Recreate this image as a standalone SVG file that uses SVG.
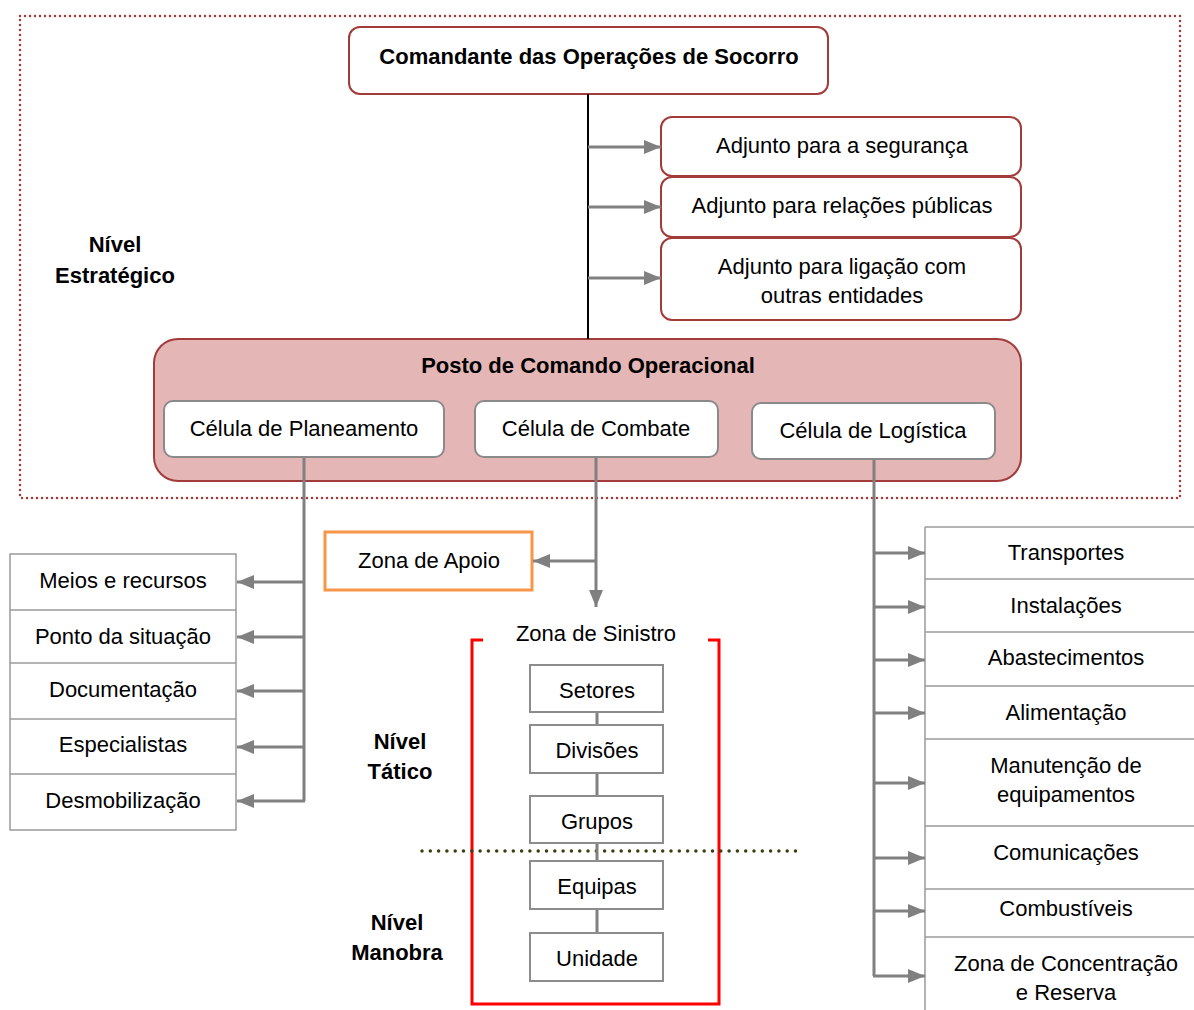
<svg xmlns="http://www.w3.org/2000/svg" width="1194" height="1010" viewBox="0 0 1194 1010">
  <style>
    text { font-family: "Liberation Sans", Arial, sans-serif; font-size: 22px; fill: #000; text-anchor: middle; }
    .b { font-weight: bold; }
    .rbox { fill: #fff; stroke: #a33b3b; stroke-width: 2; }
    .cell { fill: #fff; stroke: #8a8a8a; stroke-width: 2; }
    .sq { fill: #fff; stroke: #8c8c8c; stroke-width: 2; }
    .list { fill: #fff; stroke: #9a9a9a; stroke-width: 1.5; }
    .conn { fill: none; stroke: #808080; stroke-width: 3; }
  </style>
  <defs>
    <marker id="arr" markerUnits="userSpaceOnUse" markerWidth="18" markerHeight="14" refX="17" refY="7" orient="auto">
      <path d="M0,0 L17,7 L0,14 Z" fill="#808080"/>
    </marker>
  </defs>

  <rect width="1194" height="1010" fill="#fff"/>

  <!-- strategic level frame -->
  <rect x="20" y="16" width="1160" height="482" fill="none" stroke="#a33b3b" stroke-width="2.5" stroke-dasharray="0 5" stroke-linecap="round"/>

  <!-- level labels -->
  <g id="nivel-estrategico">
    <text class="b" x="115" y="252">Nível</text>
    <text class="b" x="115" y="283">Estratégico</text>
  </g>
  <g id="nivel-tatico">
    <text class="b" x="400" y="749">Nível</text>
    <text class="b" x="400" y="779">Tático</text>
  </g>
  <g id="nivel-manobra">
    <text class="b" x="397" y="930">Nível</text>
    <text class="b" x="397" y="960">Manobra</text>
  </g>

  <!-- commander -->
  <g id="comandante">
    <rect class="rbox" x="349" y="27" width="479" height="67" rx="11"/>
    <text class="b" x="589" y="64">Comandante das Operações de Socorro</text>
  </g>

  <!-- deputies -->
  <g id="adjunto-seguranca">
    <rect class="rbox" x="661" y="117" width="360" height="59" rx="11"/>
    <text x="842" y="153">Adjunto para a segurança</text>
  </g>
  <g id="adjunto-relacoes">
    <rect class="rbox" x="661" y="177" width="360" height="60" rx="11"/>
    <text x="842" y="213">Adjunto para relações públicas</text>
  </g>
  <g id="adjunto-ligacao">
    <rect class="rbox" x="661" y="238" width="360" height="82" rx="11"/>
    <text x="842" y="274">Adjunto para ligação com</text>
    <text x="842" y="303">outras entidades</text>
  </g>

  <!-- operational command post -->
  <g id="posto-comando">
    <rect x="154" y="339" width="867" height="142" rx="24" fill="#e4b6b6" stroke="#a33b3b" stroke-width="2"/>
    <text class="b" x="588" y="373">Posto de Comando Operacional</text>
  </g>
  <g id="celula-planeamento">
    <rect class="cell" x="164" y="401" width="280" height="56" rx="9"/>
    <text x="304" y="436">Célula de Planeamento</text>
  </g>
  <g id="celula-combate">
    <rect class="cell" x="475" y="401" width="243" height="56" rx="9"/>
    <text x="596" y="436">Célula de Combate</text>
  </g>
  <g id="celula-logistica">
    <rect class="cell" x="752" y="403" width="243" height="56" rx="9"/>
    <text x="873" y="438">Célula de Logística</text>
  </g>

  <!-- planning list -->
  <g id="lista-planeamento">
    <rect class="list" x="10" y="554" width="226" height="276"/>
    <line class="list" x1="10" y1="610" x2="236" y2="610"/>
    <line class="list" x1="10" y1="663" x2="236" y2="663"/>
    <line class="list" x1="10" y1="719" x2="236" y2="719"/>
    <line class="list" x1="10" y1="774" x2="236" y2="774"/>
  </g>
  <g id="meios-recursos"><text x="123" y="588">Meios e recursos</text></g>
  <g id="ponto-situacao"><text x="123" y="644">Ponto da situação</text></g>
  <g id="documentacao"><text x="123" y="697">Documentação</text></g>
  <g id="especialistas"><text x="123" y="752">Especialistas</text></g>
  <g id="desmobilizacao"><text x="123" y="808">Desmobilização</text></g>

  <!-- support zone -->
  <g id="zona-apoio">
    <rect x="325" y="532" width="207" height="58" fill="#fff" stroke="#f79646" stroke-width="3"/>
    <text x="429" y="568">Zona de Apoio</text>
  </g>

  <!-- incident zone -->
  <g id="zona-sinistro">
    <path d="M483,640 H472 V1004 H719 V640 H708" fill="none" stroke="#ff0000" stroke-width="3"/>
    <text x="596" y="641">Zona de Sinistro</text>
  </g>
  <g id="setores">
    <rect class="sq" x="530" y="665" width="133" height="47"/>
    <text x="597" y="698">Setores</text>
  </g>
  <g id="divisoes">
    <rect class="sq" x="530" y="725" width="133" height="48"/>
    <text x="597" y="758">Divisões</text>
  </g>
  <g id="grupos">
    <rect class="sq" x="530" y="796" width="133" height="47"/>
    <text x="597" y="829">Grupos</text>
  </g>
  <g id="equipas">
    <rect class="sq" x="530" y="861" width="133" height="48"/>
    <text x="597" y="894">Equipas</text>
  </g>
  <g id="unidade">
    <rect class="sq" x="530" y="933" width="133" height="48"/>
    <text x="597" y="966">Unidade</text>
  </g>

  <!-- tactical / manoeuvre divide -->
  <line x1="422" y1="851" x2="798" y2="851" stroke="#3d3d10" stroke-width="3.5" stroke-dasharray="0 8.3" stroke-linecap="round"/>

  <!-- logistics list -->
  <g id="lista-logistica">
    <line class="list" x1="925" y1="527" x2="925" y2="1010"/>
    <line class="list" x1="925" y1="527" x2="1194" y2="527"/>
    <line class="list" x1="925" y1="579" x2="1194" y2="579"/>
    <line class="list" x1="925" y1="632" x2="1194" y2="632"/>
    <line class="list" x1="925" y1="686" x2="1194" y2="686"/>
    <line class="list" x1="925" y1="739" x2="1194" y2="739"/>
    <line class="list" x1="925" y1="826" x2="1194" y2="826"/>
    <line class="list" x1="925" y1="889" x2="1194" y2="889"/>
    <line class="list" x1="925" y1="937" x2="1194" y2="937"/>
  </g>
  <g id="transportes"><text x="1066" y="560">Transportes</text></g>
  <g id="instalacoes"><text x="1066" y="613">Instalações</text></g>
  <g id="abastecimentos"><text x="1066" y="665">Abastecimentos</text></g>
  <g id="alimentacao"><text x="1066" y="720">Alimentação</text></g>
  <g id="manutencao">
    <text x="1066" y="773">Manutenção de</text>
    <text x="1066" y="802">equipamentos</text>
  </g>
  <g id="comunicacoes"><text x="1066" y="860">Comunicações</text></g>
  <g id="combustiveis"><text x="1066" y="916">Combustíveis</text></g>
  <g id="zona-concentracao">
    <text x="1066" y="971">Zona de Concentração</text>
    <text x="1066" y="1000">e Reserva</text>
  </g>

  <!-- connectors (drawn last so the cell drops show over the command post) -->
  <g id="connectors">
    <line x1="588" y1="94" x2="588" y2="339" stroke="#000" stroke-width="2"/>
    <line class="conn" x1="588" y1="147" x2="661" y2="147" marker-end="url(#arr)"/>
    <line class="conn" x1="588" y1="207" x2="661" y2="207" marker-end="url(#arr)"/>
    <line class="conn" x1="588" y1="278" x2="661" y2="278" marker-end="url(#arr)"/>

    <!-- planning cell -->
    <path class="conn" d="M304,458 V801"/>
    <line class="conn" x1="305" y1="582" x2="237" y2="582" marker-end="url(#arr)"/>
    <line class="conn" x1="305" y1="637" x2="237" y2="637" marker-end="url(#arr)"/>
    <line class="conn" x1="305" y1="691" x2="237" y2="691" marker-end="url(#arr)"/>
    <line class="conn" x1="305" y1="747" x2="237" y2="747" marker-end="url(#arr)"/>
    <line class="conn" x1="305" y1="801" x2="237" y2="801" marker-end="url(#arr)"/>

    <!-- combat cell -->
    <line class="conn" x1="596" y1="458" x2="596" y2="607" marker-end="url(#arr)"/>
    <line class="conn" x1="597" y1="561" x2="533" y2="561" marker-end="url(#arr)"/>

    <!-- logistics cell -->
    <path class="conn" d="M874,460 V976"/>
    <line class="conn" x1="873" y1="553" x2="925" y2="553" marker-end="url(#arr)"/>
    <line class="conn" x1="873" y1="607" x2="925" y2="607" marker-end="url(#arr)"/>
    <line class="conn" x1="873" y1="660" x2="925" y2="660" marker-end="url(#arr)"/>
    <line class="conn" x1="873" y1="713" x2="925" y2="713" marker-end="url(#arr)"/>
    <line class="conn" x1="873" y1="783" x2="925" y2="783" marker-end="url(#arr)"/>
    <line class="conn" x1="873" y1="858" x2="925" y2="858" marker-end="url(#arr)"/>
    <line class="conn" x1="873" y1="911" x2="925" y2="911" marker-end="url(#arr)"/>
    <line class="conn" x1="873" y1="976" x2="925" y2="976" marker-end="url(#arr)"/>

    <!-- incident zone chain -->
    <line class="conn" x1="597" y1="713" x2="597" y2="724"/>
    <line class="conn" x1="597" y1="774" x2="597" y2="795"/>
    <line class="conn" x1="597" y1="844" x2="597" y2="860"/>
    <line class="conn" x1="597" y1="910" x2="597" y2="932"/>
  </g>
</svg>
